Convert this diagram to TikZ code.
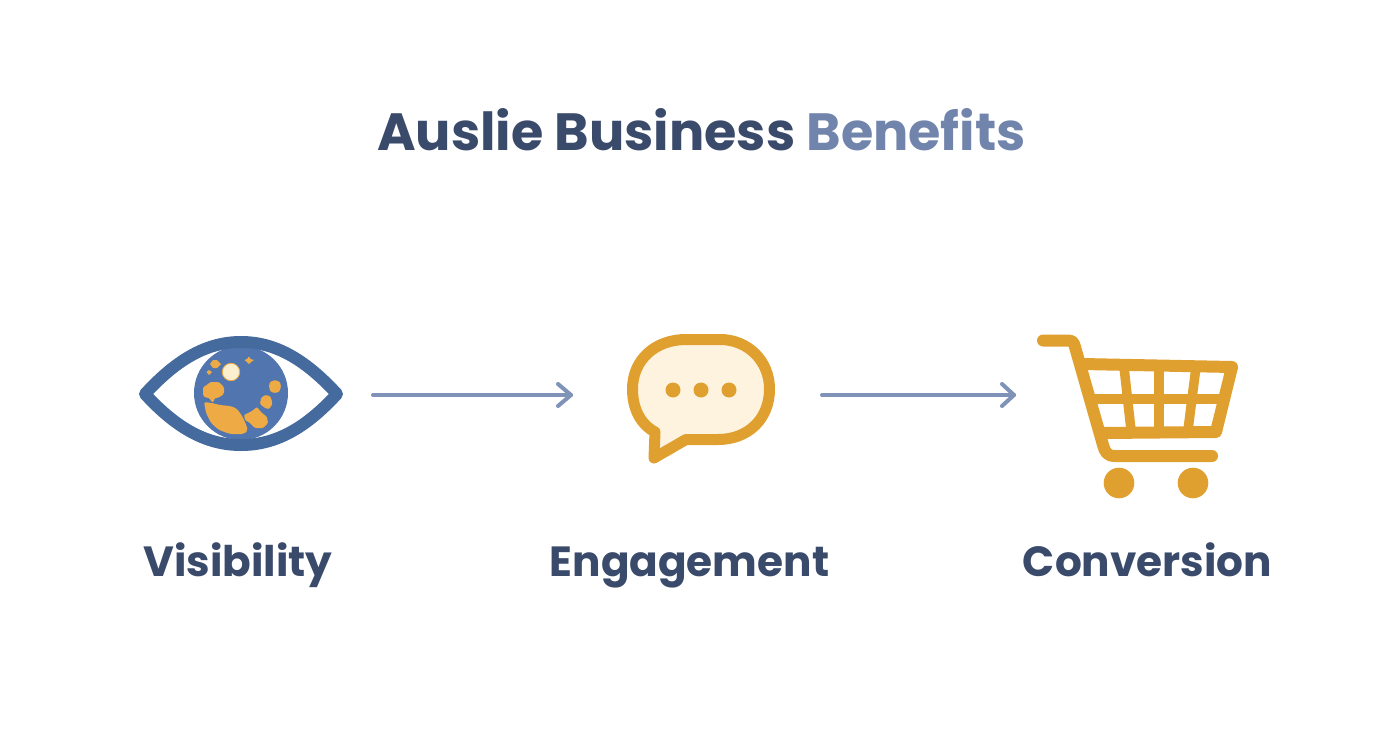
\documentclass[tikz,border=0pt]{standalone}
\usepackage{fontspec}
\setmainfont{Poppins}
\definecolor{ink}{HTML}{3A4A6B}
\definecolor{lightink}{HTML}{7184AB}
\definecolor{eyeblue}{HTML}{456A9E}
\definecolor{globeblue}{HTML}{5175AE}
\definecolor{land}{HTML}{EEAA45}
\definecolor{moon}{HTML}{FBEFCF}
\definecolor{gold}{HTML}{E0A02F}
\definecolor{cream}{HTML}{FDF3DF}
\definecolor{arrowc}{HTML}{7F93B8}
\tikzset{
  icon/.style={inner sep=0pt,outer sep=0pt,minimum height=10pt},
  label/.style={font=\bfseries\fontsize{42.2}{48}\selectfont,text=ink,inner sep=0pt,anchor=base},
  flow/.style={draw=arrowc,line width=4pt,line cap=round},
  chevron/.style={draw=arrowc,line width=4pt,line cap=round,line join=round},
  line/.style={draw=gold,line width=12pt,line cap=round,line join=round},
  wire/.style={draw=gold,line width=9.5pt}
}
\begin{document}
\begin{tikzpicture}[x=1pt,y=-1pt]
\useasboundingbox (0,0) rectangle (1392,752);
\fill[white] (0,0) rectangle (1392,752);
% title
\node[inner sep=0pt,anchor=base] (title) at (701.5,150) {\bfseries\fontsize{52.4}{58}\selectfont\textcolor{ink}{Auslie Business} \textcolor{lightink}{Benefits}};
% icon frames
\node[icon,minimum width=205pt] (eye) at (240.5,395) {};
\node[icon,minimum width=148pt] (bubble) at (701,395) {};
\node[icon,minimum width=200pt] (cart) at (1138,395) {};
% eye
\fill[globeblue] (241,393) circle (47);
\begin{scope}
\clip (241,393) circle (47);
\fill[land,rounded corners=1.5pt] (203,387) -- (207,385) -- (210,382) -- (219,382) -- (224,387) -- (224,394) -- (218,398) -- (214,398) -- (214,402) -- (211,402) -- (210,398) -- (207,398) -- (203,396) -- cycle;
\fill[land,rounded corners=2pt] (204,402) -- (212,403) -- (220,405) -- (230,406) -- (236,408) -- (241,414) -- (245,422) -- (248,430) -- (244,434) -- (230,434) -- (219,430) -- (211,423) -- (206,413) -- cycle;
\fill[land,rounded corners=1pt] (244,415) -- (252,411) -- (257,407) -- (261,412) -- (267,417) -- (268,423) -- (263,428) -- (255,428) -- (250,423) -- (245,420) -- cycle;
\fill[land,rounded corners=1pt] (261,398) -- (265,395) -- (270,396) -- (272,401) -- (272,405) -- (269,409) -- (265,408) -- (260,404) -- cycle;
\fill[land,rounded corners=1pt] (270,382) -- (275,380) -- (280,382) -- (281,387) -- (279,392) -- (274,393) -- (270,391) -- (269,386) -- cycle;
\fill[land] (213,360) -- (217,360) -- (221,364) -- (217,368) -- (213,368) -- (210,364) -- cycle;
\fill[land] (209,370) -- (212,372) -- (209,375) -- (206.5,372) -- cycle;
\fill[land] (249,356.5) -- (250.5,359) -- (254,360) -- (251,362) -- (249,364) -- (247,362) -- (244.5,360) -- (247,359) -- cycle;
\end{scope}
\fill[moon,draw=land,line width=0.8pt] (231,372) circle (8.7);
\draw[eyeblue,line width=12pt,line join=round] (145,394) .. controls (178,358) and (208,342) .. (241,342) .. controls (274,342) and (304,358) .. (337,394) .. controls (304,430) and (274,445) .. (241,445) .. controls (208,445) and (178,430) .. (145,394) -- cycle;
% bubble
\draw[draw=gold,fill=cream,line width=11pt,line join=round]
  (686,339.5) -- (720,339.5) .. controls (748,339.5) and (769.5,361) .. (769.5,389) .. controls (769.5,419) and (748,439.5) .. (718,439.5) -- (686,439.5) -- (654,458) -- (655,432) .. controls (640,424) and (632.5,408) .. (632.5,389) .. controls (632.5,360) and (655,339.5) .. (686,339.5) -- cycle;
\foreach \px in {673,701,729} \fill[gold] (\px,390) circle (7.5);
% cart
\draw[wire] (1124,367) -- (1131,430);
\draw[wire] (1159,367) -- (1159,430);
\draw[wire] (1196,367) -- (1188,430);
\draw[wire] (1095,399) -- (1225,399);
\draw[line] (1043,340.5) -- (1068,340.5) .. controls (1073,340.5) and (1074,343) .. (1075,347) -- (1103,445) .. controls (1105,452) and (1107,456) .. (1115,456) -- (1212,456);
\draw[line] (1082,364) -- (1232,367) -- (1216,432) -- (1103,433);
\foreach \px in {1119,1193} \fill[gold] (\px,483) circle (15.3);
% arrows
\draw[flow,shorten <=30pt,shorten >=56pt] (eye.east) -- (bubble.west);
\draw[chevron] (558,384) -- (571,395) -- (558,406);
\draw[flow,shorten <=47pt,shorten >=24pt] (bubble.east) -- (cart.west);
\draw[chevron] (1002,384) -- (1014,395) -- (1002,406);
% labels
\node[label] (l1) at (238,576) {Visibility};
\node[label] (l2) at (689.5,576) {Engagement};
\node[label] (l3) at (1147.5,576) {Conversion};
\end{tikzpicture}
\end{document}
